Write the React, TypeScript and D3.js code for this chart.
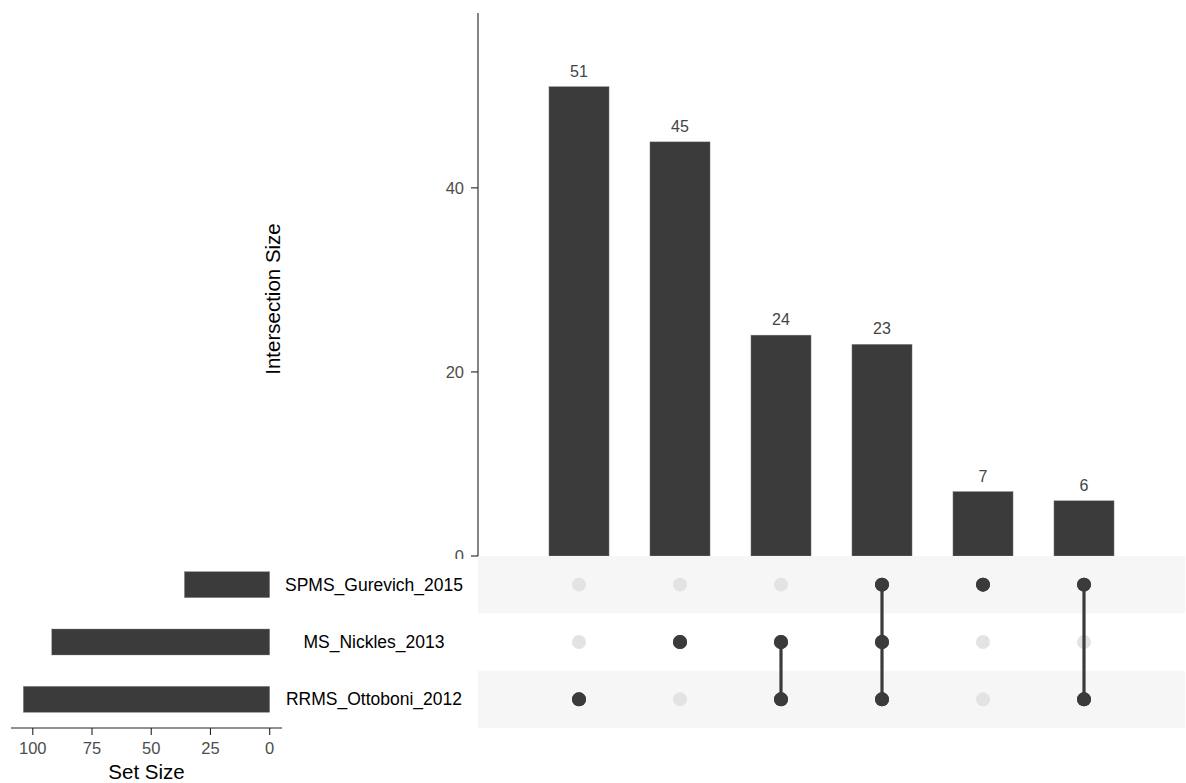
import React from "react";
import * as d3 from "d3";

// Intersections, ordered by size
const intersectionSizes = [51, 45, 24, 23, 7, 6];
// Membership of each intersection (set names it contains)
const intersectionSets = [
  ["RRMS_Ottoboni_2012"],
  ["MS_Nickles_2013"],
  ["MS_Nickles_2013", "RRMS_Ottoboni_2012"],
  ["SPMS_Gurevich_2015", "MS_Nickles_2013", "RRMS_Ottoboni_2012"],
  ["SPMS_Gurevich_2015"],
  ["SPMS_Gurevich_2015", "RRMS_Ottoboni_2012"],
];
// Sets, top to bottom in the matrix
const setNames = ["SPMS_Gurevich_2015", "MS_Nickles_2013", "RRMS_Ottoboni_2012"];
const setSizes = [36, 92, 104];
const mainTicks = [0, 20, 40];
const setTicks = [100, 75, 50, 25, 0];

const W = 1186;
const H = 783;
const BAR = "#3b3b3b";
const FONT = "Liberation Sans, Arial, Helvetica, sans-serif";

export default function App() {
  // Intersection columns: positions 1..n inside a 0..n+1 domain
  const x = d3.scaleLinear().domain([0, intersectionSizes.length + 1]).range([478, 1185]);
  const y = d3.scaleLinear().domain([0, 59]).range([556, 13]);
  const step = x(1) - x(0);
  const barW = step * 0.595;

  // Matrix rows
  const row = d3.scaleBand().domain(setNames).range([556, 728]);
  const rowC = (s: string) => (row(s) as number) + row.bandwidth() / 2;

  // Set size scale (reversed, expanded 5%)
  const maxSet = d3.max(setSizes) as number;
  const sx = d3.scaleLinear().domain([maxSet * 1.05, -maxSet * 0.05]).range([11, 282]);
  const setBarH = 26;

  return (
    <svg width={W} height={H} style={{ position: "absolute", left: 0, top: 0, background: "#fff" }}
      fontFamily={FONT}>
      <rect x={0} y={0} width={W} height={H} fill="#fff" />

      {/* Intersection size axis */}
      <line x1={x(0)} x2={x(0)} y1={y(59)} y2={y(0)} stroke="#222" strokeWidth={1.1} />
      {mainTicks.map((t) => (
        <g key={t}>
          <line x1={x(0) - 7} x2={x(0)} y1={y(t)} y2={y(t)} stroke="#222" strokeWidth={1.1} />
          <text x={x(0) - 14} y={y(t)} dy="0.35em" textAnchor="end" fontSize={16.5} fill="#4d4d4d">
            {t}
          </text>
        </g>
      ))}
      <text transform={`translate(280,299) rotate(-90)`} textAnchor="middle" fontSize={20.5} fill="#000">
        Intersection Size
      </text>

      {/* Intersection bars */}
      {intersectionSizes.map((v, i) => (
        <g key={i}>
          <rect x={x(i + 1) - barW / 2} y={y(v)} width={barW} height={y(0) - y(v)} fill={BAR}
            stroke="#8a8a8a" strokeWidth={0.4} />
          <text x={x(i + 1)} y={y(v) - 10} textAnchor="middle" fontSize={16} fill="#444">
            {v}
          </text>
        </g>
      ))}

      {/* Set label panel background */}
      <rect x={283} y={559} width={x(0) - 283} height={175} fill="#fff" />

      {/* Matrix shading */}
      {setNames.map((s, j) =>
        j % 2 === 0 ? (
          <rect key={s} x={x(0)} y={row(s) as number} width={x(intersectionSizes.length + 1) - x(0)}
            height={row.bandwidth()} fill="#f6f6f6" />
        ) : null
      )}

      {/* Matrix dots and connectors */}
      {intersectionSets.map((members, i) => {
        const ys = members.map(rowC);
        const y1 = d3.min(ys) as number;
        const y2 = d3.max(ys) as number;
        return (
          <g key={i}>
            {setNames.map((s) => (
              <circle key={s} cx={x(i + 1)} cy={rowC(s)} r={7}
                fill={members.includes(s) ? BAR : "#e3e3e3"} />
            ))}
            {members.length > 1 && (
              <line x1={x(i + 1)} x2={x(i + 1)} y1={y1} y2={y2} stroke={BAR} strokeWidth={3.2} />
            )}
            {members.map((s) => (
              <circle key={s} cx={x(i + 1)} cy={rowC(s)} r={7} fill={BAR} />
            ))}
          </g>
        );
      })}

      {/* Set labels */}
      {setNames.map((s) => (
        <text key={s} x={374} y={rowC(s)} dy="0.35em" textAnchor="middle" fontSize={17.5} fill="#000">
          {s}
        </text>
      ))}

      {/* Set size bars */}
      {setNames.map((s, j) => (
        <rect key={s} x={sx(setSizes[j])} y={rowC(s) - setBarH / 2} width={sx(0) - sx(setSizes[j])}
          height={setBarH} fill={BAR} stroke="#8a8a8a" strokeWidth={0.4} />
      ))}

      {/* Set size axis */}
      <line x1={11} x2={282} y1={728} y2={728} stroke="#222" strokeWidth={1.1} />
      {setTicks.map((t) => (
        <g key={t}>
          <line x1={sx(t)} x2={sx(t)} y1={728} y2={735} stroke="#222" strokeWidth={1.1} />
          <text x={sx(t)} y={748} dy="0.35em" textAnchor="middle" fontSize={16.5} fill="#4d4d4d">
            {t}
          </text>
        </g>
      ))}
      <text x={(11 + 282) / 2} y={779} textAnchor="middle" fontSize={20.5} fill="#000">
        Set Size
      </text>
    </svg>
  );
}
